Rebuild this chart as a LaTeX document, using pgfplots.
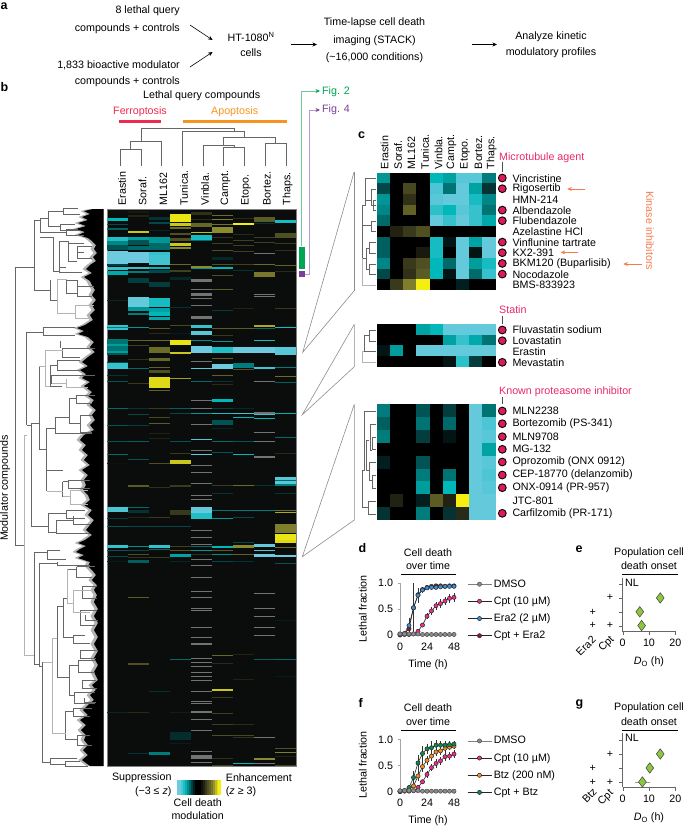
\documentclass[border=0pt]{standalone}
\usepackage{fontspec}
\setmainfont{Liberation Sans}
\usepackage{pgfplots}
\usepackage{pgfplotstable}
\pgfplotsset{compat=1.18}
\usetikzlibrary{arrows.meta}

\definecolor{dkline}{HTML}{666666}
\definecolor{ltline}{HTML}{B4B4B4}
\definecolor{heatbg}{HTML}{0A0D0C}
\definecolor{ferro}{HTML}{EE2A4F}
\definecolor{apop}{HTML}{F7941D}
\definecolor{hitpink}{HTML}{E0195E}
\definecolor{labpink}{HTML}{E8286E}
\definecolor{kinase}{HTML}{F47B50}
\definecolor{figgreen}{HTML}{00A651}
\definecolor{figgreenl}{HTML}{6BCB9A}
\definecolor{figpurple}{HTML}{7B3F98}
\definecolor{figpurplel}{HTML}{B99AD0}
\definecolor{sgray}{HTML}{8C8C8C}
\definecolor{spink}{HTML}{EC2E8C}
\definecolor{sblue}{HTML}{3F8FCF}
\definecolor{sred}{HTML}{8E1B2E}
\definecolor{sorange}{HTML}{F39220}
\definecolor{sgreen}{HTML}{0E8A4F}
\definecolor{dia}{HTML}{8DC63F}

\pgfplotsset{
  /pgfplots/colormap={cdm}{
    rgb255(0)=(110,203,223) rgb255(10)=(0,184,186) rgb255(16)=(0,143,143)
    rgb255(20)=(0,106,106) rgb255(25)=(5,50,50) rgb255(30)=(0,0,0)
    rgb255(35)=(42,42,24) rgb255(40)=(79,79,34) rgb255(50)=(138,138,48)
    rgb255(60)=(245,238,16)
  },
}

% heat cells, size comes from visualization depends on
\pgfdeclareplotmark{band}{%
  \pgfpathrectanglecorners{\pgfpoint{-10.5pt}{0pt}}{\pgfpoint{10.5pt}{-1pt*\bh}}%
  \pgfusepathqfill}
\pgfdeclareplotmark{cell}{%
  \pgfpathrectanglecorners{\pgfpoint{-6.65pt}{-0.5pt*\bh-0.03pt}}{\pgfpoint{6.65pt}{0.5pt*\bh+0.03pt}}%
  \pgfusepathqfill}
\pgfdeclareplotmark{tint}{%
  \pgfpathrectanglecorners{\pgfpoint{-1.3pt}{-7.5pt}}{\pgfpoint{1.3pt}{7.5pt}}%
  \pgfusepathqfill}

% main heat map: column, top y, height, z
\pgfplotstableread[row sep=\\]{
c y h z\\
1 218.3 2.3 -2\\ 1 224 1 -0.7\\ 1 228.3 2 -0.9\\ 1 237.3 3.3 -2.3\\ 1 240.7 4.3 -1.3\\ 1 245 5 -0.8\\ 1 250.7 13.3 -3\\ 1 264 1.5 -0.6\\ 1 267.3 2.7 -2.5\\ 1 271 4 -1.8\\ 1 300 1 -0.4\\
1 325 2 -2.5\\ 1 327 1.3 -1.2\\ 1 328.3 1.7 -2.5\\ 1 339.3 5 -1.1\\ 1 344.3 2 -1.6\\ 1 346.3 5 -1.1\\ 1 351.3 2 -1.6\\ 1 353.3 1.7 -0.8\\ 1 361.7 1 -0.7\\ 1 363.3 6 -2.5\\ 1 375 1 -0.5\\ 1 381 1 -0.8\\ 1 408.3 1 -1\\ 1 425 1 -0.8\\ 1 441 1 -0.8\\ 1 454 1 -1\\ 1 463.3 1 0.2\\ 1 507.3 5 -2.7\\ 1 518.3 1 -0.6\\ 1 525.7 1 -0.8\\ 1 545 3 -2.5\\ 1 550 1 -0.8\\ 1 556 1 -0.7\\ 1 561 1 -0.3\\ 1 711.7 1 -0.4\\
2 210.7 2 0.3\\ 2 215 2 0.4\\ 2 230.7 2 2.6\\ 2 237.3 2.7 -1.7\\ 2 240 5 -0.8\\ 2 245.7 4.3 -1\\ 2 251.7 11 -3\\ 2 266.7 2.7 -2.5\\ 2 270.7 2.7 -1.2\\ 2 278.3 5 -0.6\\ 2 296.7 10.7 -2.9\\ 2 307.3 3.3 -1.5\\ 2 313.3 1.7 -1.2\\
2 327.3 1 -1.5\\ 2 340 1 1.3\\ 2 345 1 0.8\\ 2 359.3 1 0.6\\ 2 368.3 1 -1\\ 2 383.3 1 0.7\\ 2 408.3 1 -0.5\\ 2 414 1 -0.7\\ 2 425 1 -0.6\\ 2 441 1 -0.9\\ 2 459.3 1 -0.8\\ 2 485 2.3 1.2\\ 2 507.3 1 -1\\ 2 510 3.3 -0.5\\ 2 516.7 1 0.4\\ 2 525.7 1 -0.7\\ 2 546 1 -1.4\\ 2 550 1 -0.7\\ 2 554 1 1\\ 2 557.3 1 0.6\\ 2 560 3.3 -0.9\\ 2 597.3 1 1.2\\ 2 663.3 2 1\\ 2 711.7 1 0.5\\ 2 753 1 -0.5\\
3 217.3 2.7 -0.5\\ 3 221.7 2.3 -0.7\\ 3 230 1 -0.4\\ 3 236.7 6.6 -1.5\\ 3 243.3 6.7 -1\\ 3 251.7 3.3 -2.5\\ 3 255 10 -2.6\\ 3 266.7 2.3 -2\\ 3 270 3.3 -0.7\\ 3 281.7 5 -0.6\\ 3 298.3 8.3 -2.2\\ 3 308.3 5 -1.7\\ 3 317.3 2.7 -1.8\\
3 311.7 4 -2\\ 3 328 1 1.2\\ 3 333 1 0.5\\ 3 340 1 1.5\\ 3 346.7 6.7 1.5\\ 3 358.3 2.7 1.4\\ 3 366.7 1.5 1.3\\ 3 370 3.3 1\\ 3 376.7 11.7 2.8\\ 3 390 1 1.3\\ 3 408.3 1 0.7\\ 3 416.7 1 0.9\\ 3 422.7 1 1.2\\ 3 433.3 1 0.4\\ 3 438.3 1 0.4\\ 3 463.3 1 1\\ 3 487.3 1 0.6\\ 3 516.7 1 0.7\\ 3 525.7 1 -0.7\\ 3 545 3.3 -2.5\\ 3 549.3 1 -1\\ 3 556.7 1 0.7\\ 3 691 1 -0.5\\ 3 751.7 3.3 -1.2\\
4 214 7.7 2.9\\ 4 222.7 3 2.6\\ 4 227.3 2 1.5\\ 4 233.3 1.7 1\\ 4 238 2.7 1\\ 4 243.3 2.3 2.6\\ 4 246.7 2.7 1.9\\ 4 264 1.3 1.4\\ 4 270 1.7 0.8\\ 4 276.7 3.3 -0.4\\ 4 307 1 -0.5\\
4 325 1 0.9\\ 4 333.3 1 -0.3\\ 4 340 5 2.9\\ 4 352.3 2 2.6\\ 4 377.5 1.5 2.2\\ 4 408.3 1 -0.9\\ 4 413.3 1 -0.7\\ 4 441 1 -0.8\\ 4 452.7 1 0.7\\ 4 460 3.5 2.6\\ 4 485 1.7 0.7\\ 4 510 5 0.7\\ 4 525.7 1 -0.7\\ 4 546 1 0.8\\ 4 550 1 1.1\\ 4 554 3.3 -1.7\\ 4 560.7 1 -0.4\\ 4 659 1 -1\\ 4 711.7 1 0.3\\ 4 731.7 8.3 -0.45\\ 4 743 1 -0.3\\
5 211.7 3.3 0.6\\ 5 219 1 0.5\\ 5 222.7 4 1.4\\ 5 232 1 2.5\\ 5 235 5 -2.2\\ 5 240 1 -1\\ 5 266 2 2\\ 5 267.7 1.7 -1.5\\ 5 325 2.7 -2.5\\ 5 330.7 4.3 -2.8\\ 5 340 1 -1.4\\ 5 345.7 7.7 -3\\ 5 367.7 1 -2.8\\ 5 381 1 -1\\ 5 413.3 1 -1.5\\ 5 439.3 1 -2.7\\ 5 454 1 -2.9\\ 5 507.3 6 -2.9\\ 5 513.3 5.7 -2.3\\ 5 546 1 -1\\ 5 550 1 -1.5\\ 5 554 1 0.6\\
6 215 1 1.5\\ 6 219.3 1 1.8\\ 6 224 1 1.6\\ 6 227.3 6 2\\ 6 237.3 1 0.6\\ 6 243.3 1 0.8\\ 6 250 1 1\\ 6 256.7 3.3 -0.4\\ 6 264 1 1\\ 6 267.3 2 -2\\ 6 275 1 1\\ 6 289.3 1 1.2\\ 6 310 1 -0.6\\
6 328 1 1.2\\ 6 335 1 0.7\\ 6 340.7 1 -1.5\\ 6 346.7 6 -2.3\\ 6 358.3 1 1.3\\ 6 364 5 -3\\ 6 375 1 1.3\\ 6 381 1 -0.5\\ 6 384 1 0.5\\ 6 399.3 2.5 -2\\ 6 408.3 1 -0.6\\ 6 413.3 1 -2.2\\ 6 420 5 -0.8\\ 6 428.3 1 -0.4\\ 6 441 1 -1\\ 6 451.7 1 -0.8\\ 6 485 1 0.7\\ 6 492.7 1 -0.5\\ 6 510 1 -1.1\\ 6 518.3 1 -1.5\\ 6 546 1 1.3\\ 6 546 1.5 -2\\ 6 550 1 1.2\\ 6 554 1 -1.4\\ 6 560.7 1 -0.7\\ 6 655 1 1.4\\ 6 663 1 0.5\\ 6 689.3 2 2.6\\ 6 697 1 0.7\\ 6 713 1 0.8\\ 6 724.3 1 0.8\\ 6 735 1 1\\ 6 758 1 0.6\\ 6 765 1 0.8\\
7 218 1 0.5\\ 7 222.7 2.3 3\\ 7 234 1 0.5\\ 7 240 1 0.8\\ 7 245 1 0.8\\ 7 250.7 1 0.8\\ 7 264 1 0.8\\ 7 270 1 -0.5\\
7 308 1 0.4\\ 7 328 1 1.2\\ 7 346.7 6.7 -3\\ 7 363.3 5 -1.2\\ 7 369 1 1\\ 7 408.3 1 -0.4\\ 7 413.3 1 -2.6\\ 7 417.3 1 -2\\ 7 441 1 -0.8\\ 7 454 1 -2\\ 7 485 1 1.5\\ 7 510 1 -1.2\\ 7 516.7 1 -0.7\\ 7 541.7 1 -0.7\\ 7 545 3 2\\ 7 554 1 1.3\\ 7 560.7 1 -0.5\\ 7 654.3 1 0.4\\ 7 679.3 1 0.4\\ 7 724.3 1 0.5\\ 7 735 1 0.9\\ 7 737.3 1 0.6\\ 7 762.7 1.3 -2\\
8 217.3 4.3 1.2\\ 8 223.3 1 -0.5\\ 8 236.7 1 0.8\\ 8 241.7 1 0.8\\ 8 264 1 1.5\\ 8 271.7 5 1.7\\
8 325 2 2.3\\ 8 328.3 1 -1\\ 8 340 1 -2.2\\ 8 346.7 6.7 -3\\ 8 367.3 1.5 -2.6\\ 8 413.3 1.3 -2.5\\ 8 417.7 1 -2\\ 8 485 1 -0.5\\ 8 510 1 -1.2\\ 8 544 3.3 -2.9\\ 8 550 1 -2.7\\ 8 554 3.3 -3\\ 8 659.3 1 -0.9\\ 8 758 1.7 2\\
9 220 3 -2.2\\ 9 233.3 5 1\\ 9 243.3 1 0.7\\ 9 250 1 0.6\\ 9 265 1 1.3\\ 9 270.7 1 0.5\\ 9 308.3 1 1.2\\
9 308.3 1 0.7\\ 9 326.7 1 -2.2\\ 9 346.7 8.3 -2.8\\ 9 366.7 1 -1.2\\ 9 376 1 1.5\\ 9 381.7 1 -0.9\\ 9 413.3 1 -1.9\\ 9 437.3 1 -1\\ 9 452.7 1 0.5\\ 9 476.7 3 -2.8\\ 9 479.7 1.3 -1\\ 9 481 3 -2.8\\ 9 484 2 -1.2\\ 9 492.7 1 -0.5\\ 9 510 1 1.5\\ 9 511.7 1 2.3\\ 9 524 9 1.8\\ 9 534.3 8 2.9\\ 9 540 2.7 2.8\\ 9 547.3 1 1.5\\ 9 555 2.3 -3\\ 9 562.7 1 -0.8\\ 9 620 1 -0.3\\ 9 659.3 1 -1\\ 9 676 1 -0.3\\ 9 748.3 1 1\\ 9 751.7 1 1.8\\ 9 756 1 0.4\\ 9 765 1 0.8\\
}\bandtab

% greyish stripes (mostly Vinbla.)
\pgfplotstableread[row sep=\\]{
c y h\\
5 279 3.3\\ 5 289.3 1\\ 5 293.3 3\\ 5 298 1\\ 5 316.7 2.7\\ 5 305 1\\ 5 316 3\\ 5 361 1\\ 5 400 1\\ 5 408.3 1\\ 5 424 1\\ 5 450 1\\ 5 465 1\\ 5 471.7 1\\ 5 483.3 1\\ 5 495 1\\ 5 499 1\\ 5 530 1\\ 5 537.3 1\\ 5 544 1\\ 5 559.3 1\\ 5 565 1\\ 5 577.3 1\\ 5 591 1\\ 5 597.3 1\\ 5 608 1.3\\ 5 610 1\\ 5 627.3 1\\ 5 637 1\\ 5 643 1.7\\ 5 658 1\\ 5 661.7 1\\ 5 666 1\\ 5 671.7 1\\ 5 676 1\\ 5 680 1\\ 5 690.7 1.7\\ 5 700.7 1.5\\ 5 703.3 1\\ 5 710.7 1\\ 5 712.3 1\\ 5 719.3 1\\ 5 730 1\\ 5 751 1\\ 5 755 2.5\\ 5 761.7 1\\ 5 756 3\\
8 252.7 1.5\\ 8 294 1\\ 8 296.3 1\\ 8 381 1\\ 8 411.7 2\\ 8 431.7 1\\ 8 441 1.2\\ 8 456 1.5\\ 8 593.3 1\\ 8 608.3 1\\ 8 616.3 1\\ 8 627.3 1\\ 8 635.3 1\\ 8 736.7 1\\ 8 763.3 1\\
}\greytab

% left edge of the dendrogram leaves
\pgfplotstableread[row sep=\\]{
x y\\
103.5 209\\ 93 209\\ 84 211\\ 90 214\\ 82 217\\ 88 220\\ 78 223\\ 86 226\\ 76 229\\ 85 232\\ 78 235\\ 88 238\\ 92 241\\ 96 245\\ 94 249\\ 97 253\\ 93 257\\ 96 261\\ 90 265\\ 86 269\\ 92 273\\ 84 277\\ 90 281\\ 92 285\\ 95 290\\ 92 295\\ 96 300\\ 92 305\\ 95 310\\ 90 315\\ 93 320\\ 85 325\\ 77 328\\ 84 331\\ 78 334\\ 88 337\\ 94 342\\ 90 347\\ 95 352\\ 88 357\\ 82 362\\ 88 366\\ 80 370\\ 86 374\\ 82 378\\ 90 382\\ 84 386\\ 92 392\\ 88 396\\ 94 400\\ 90 405\\ 96 410\\ 92 415\\ 95 420\\ 90 425\\ 94 430\\ 84 435\\ 80 440\\ 86 445\\ 82 450\\ 88 455\\ 84 460\\ 90 465\\ 82 470\\ 88 475\\ 84 480\\ 86 485\\ 83 490\\ 88 495\\ 90 500\\ 84 505\\ 92 510\\ 88 515\\ 94 520\\ 90 525\\ 86 530\\ 92 535\\ 85 540\\ 78 543\\ 86 546\\ 80 549\\ 76 552\\ 84 555\\ 78 558\\ 90 562\\ 88 566\\ 92 570\\ 96 575\\ 92 580\\ 97 585\\ 94 590\\ 97 595\\ 94 602\\ 98 609\\ 94 616\\ 98 623\\ 94 630\\ 98 637\\ 94 644\\ 98 651\\ 94 658\\ 98 665\\ 94 672\\ 98 680\\ 92 685\\ 96 690\\ 90 695\\ 94 700\\ 88 705\\ 83 710\\ 88 715\\ 80 720\\ 86 725\\ 81 730\\ 86 735\\ 84 740\\ 88 745\\ 83 750\\ 88 755\\ 82 760\\ 90 766\\ 103.5 766\\
}\fringe

% panel c values, one column per query compound
\pgfplotstableread[row sep=\\]{
y c1 c2 c3 c4 c5 c6 c7 c8 c9\\
178.0 -1.5 0 0 0 -2 -1.7 -2.8 -2.8 -1.2\\
188.7 -0.7 0 0.9 0 -2.7 -1.1 -2.9 -1.7 -0.5\\
199.4 -1.5 0 0.6 0 -2.8 -2.9 -2.9 -2.2 -1.3\\
210.1 -1.3 0 1.3 0 -2.4 -2 -2.8 -2.5 -1.1\\
220.7 -1 0 0 0 -2.9 -2.5 -2.9 -2.5 -1.8\\
231.4 0 0.4 0.7 1 0 0 0 0 0\\
242.1 -0.9 0 0 0 -2.2 -0.2 -2.9 -1.7 -2.9\\
252.7 -0.9 0 0 0.3 -2.2 0 -2.9 -0.2 -2.9\\
263.4 -1.3 0 0.7 1 -2 -1 -2.9 -1.6 -2.2\\
274.1 -0.7 0 0.6 1.2 -2 -0.2 -2.9 -1 -2.5\\
284.7 0 0.7 1.8 3 0 0 -0.3 0 0\\
}\heatA
\pgfplotstableread[row sep=\\]{
y c1 c2 c3 c4 c5 c6 c7 c8 c9\\
329.6 0 0 0 -1.7 -2 -2.9 -2.9 -2.9 -2.9\\
340.2 0 0 0 0 0 -1.7 -2.5 -1.8 -1.1\\
350.8 -0.2 -1.6 0 -2.9 -2.9 -2.9 -2.9 -2.9 -2.9\\
361.4 0 0 0 0 0 -0.2 -2.4 -0.6 0\\
}\heatB
\pgfplotstableread[row sep=\\]{
y c1 c2 c3 c4 c5 c6 c7 c8 c9\\
410.7 -1.2 0 0 -0.8 0 -0.6 0 -2.9 -1.1\\
423.6 -0.9 0 0 -1.1 0 -1 0 -2.9 -2.7\\
436.5 -1.2 0 0 -0.6 0 -0.2 0 -2.9 -2.8\\
449.3 0 0 0 0 0 0 0 -2.9 -1.7\\
462.2 -0.3 0 0 -0.8 0 0 0 -2.9 -2.8\\
475.0 0 0 0 -1.2 0 -1.1 0 -2.9 -2.7\\
487.9 0 0 0 -1.6 0 -2 0 -2.9 -2.8\\
500.7 0 0.4 0 -0.3 1.2 0.4 3 -2.9 -2.9\\
513.6 -0.5 0 0 -1.2 0 -0.5 0.5 -2.9 -2.9\\
}\heatC

% panel d
\pgfplotstableread[row sep=\\]{
t dmso cpt ecpt era eera cb ecb\\
0 0.02 0 0.01 0.02 0.01 0.01 0.01\\
4 0.02 0.01 0.01 0.03 0.02 0.02 0.01\\
8 0.02 0.01 0.01 0.18 0.14 0.12 0.06\\
12 0.02 0.02 0.01 0.52 0.48 0.52 0.46\\
16 0.02 0.07 0.03 0.76 0.14 0.77 0.08\\
20 0.01 0.19 0.04 0.86 0.06 0.87 0.05\\
24 0.01 0.36 0.06 0.90 0.04 0.91 0.03\\
28 0.01 0.46 0.07 0.91 0.03 0.93 0.03\\
32 0.01 0.56 0.08 0.91 0.03 0.94 0.02\\
36 0.01 0.60 0.08 0.92 0.03 0.94 0.02\\
40 0.01 0.65 0.08 0.93 0.03 0.93 0.02\\
44 0.01 0.70 0.09 0.93 0.03 0.94 0.02\\
48 0.01 0.72 0.09 0.93 0.03 0.94 0.02\\
}\tabd
% panel f
\pgfplotstableread[row sep=\\]{
t dmso cpt ecpt btz ebtz cb ecb\\
0 0.02 0 0.01 0.01 0.01 0.01 0.01\\
4 0.02 0.01 0.01 0.02 0.01 0.02 0.01\\
8 0.02 0.01 0.01 0.05 0.02 0.08 0.03\\
12 0.02 0.02 0.01 0.11 0.05 0.27 0.12\\
16 0.02 0.08 0.03 0.30 0.09 0.55 0.15\\
20 0.01 0.19 0.04 0.48 0.10 0.73 0.14\\
24 0.01 0.33 0.06 0.60 0.09 0.82 0.10\\
28 0.01 0.46 0.07 0.68 0.09 0.84 0.12\\
32 0.01 0.54 0.08 0.76 0.08 0.89 0.10\\
36 0.01 0.59 0.08 0.78 0.08 0.89 0.08\\
40 0.01 0.67 0.08 0.83 0.07 0.89 0.07\\
44 0.01 0.68 0.08 0.85 0.06 0.90 0.06\\
48 0.01 0.72 0.08 0.87 0.06 0.91 0.05\\
}\tabf

\newcommand\T[4][]{\node[inner sep=0pt,anchor=#2,#1] at (axis cs:#3) {#4};}
\newcommand\pl[1]{\textbf{\fontsize{12.5}{13}\selectfont #1}}

\begin{document}
\begin{tikzpicture}[font=\fontsize{10.7}{12}\selectfont]
\path[use as bounding box] (0,0) rectangle (685pt,828pt);
\begin{axis}[
    at={(0,0)}, anchor=south west, scale only axis, width=685pt, height=828pt,
    xmin=0, xmax=685, ymin=0, ymax=828, y dir=reverse, hide axis, clip=false,
    point meta min=-3, point meta max=3, colormap name=cdm,
    tree/.style={no marks, line width=0.7pt, unbounded coords=jump, line join=miter},
    arr/.style={no marks, black, line width=0.6pt, -{Stealth[length=4.5pt,width=4pt]}},
    wedge/.style={no marks, color=black!45, line width=0.6pt},
  ]

% panel a
\T{west}{0.5,6}{\pl{a}}
\T{east}{180,11}{8 lethal query}
\T{east}{180,28.5}{compounds + controls}
\T{east}{180,65}{1,833 bioactive modulator}
\T{east}{180,82}{compounds + controls}
\T{center}{251,36.5}{HT-1080\textsuperscript{N}}
\T{center}{251,53}{cells}
\T{center}{374.5,23}{Time-lapse cell death}
\T{center}{374.5,40.5}{imaging (STACK)}
\T{center}{374.5,58}{(\textasciitilde 16,000 conditions)}
\T{center}{551,36.5}{Analyze kinetic}
\T{center}{551,52.5}{modulatory profiles}
\addplot[arr] coordinates {(190,25)(212.6,40)};
\addplot[arr] coordinates {(190,67)(212.6,52)};
\addplot[arr] coordinates {(291,44.5)(317,44.5)};
\addplot[arr] coordinates {(471.5,44.5)(497,44.5)};

% panel b header
\T{west}{0.5,87}{\pl{b}}
\T{center}{201.7,96}{Lethal query compounds}
\T[text=ferro]{center}{140,112}{Ferroptosis}
\T[text=apop]{center}{234.7,112}{Apoptosis}
\addplot[no marks, ferro, line width=3.6pt] coordinates {(119,121.3)(161,121.3)};
\addplot[no marks, apop, line width=3.6pt] coordinates {(182.7,121.3)(287,121.3)};
\addplot[tree, dkline] coordinates {
(141.3,141)(141.3,128.3)(234.3,128.3)(234.3,131.7)

(130.7,149)(130.7,141)(161.7,141)(161.7,166)

(120.7,166)(120.7,149)(141.3,149)(141.3,166)

(182.3,166)(182.3,131.7)(244.3,131.7)(244.3,137.3)

(223.7,145)(223.7,137.3)(275.7,137.3)(275.7,143.3)

(203.3,166)(203.3,145)(234.3,145)(234.3,147.7)

(223.7,166)(223.7,147.7)(244.3,147.7)(244.3,166)

(265.3,166)(265.3,143.3)(286,143.3)(286,166)
};
\T[rotate=90]{west}{122,205.5}{Erastin}
\T[rotate=90]{west}{142.5,205.5}{Soraf.}
\T[rotate=90]{west}{163.5,205.5}{ML162}
\T[rotate=90]{west}{184,205.5}{Tunica.}
\T[rotate=90]{west}{205,205.5}{Vinbla.}
\T[rotate=90]{west}{225.5,205.5}{Campt.}
\T[rotate=90]{west}{246,205.5}{Etopo.}
\T[rotate=90]{west}{267,205.5}{Bortez.}
\T[rotate=90]{west}{287.5,205.5}{Thaps.}

% Fig. 2 / Fig. 4 links
\addplot[no marks, figgreenl, line width=0.9pt, -{Stealth[length=4.5pt,width=4pt,color=figgreen]}] coordinates {(301.7,246)(301.7,91)(320,91)};
\addplot[no marks, figpurplel, line width=0.9pt, -{Stealth[length=4.5pt,width=4pt,color=figpurple]}] coordinates {(305,274)(309.3,274)(309.3,110)(320,110)};
\addplot[no marks, figgreen, line width=6.3pt] coordinates {(302.2,246.7)(302.2,269)};
\addplot[no marks, figpurple, line width=6.3pt] coordinates {(302.2,271)(302.2,276.7)};
\T[text=figgreen]{west}{322,92}{Fig. 2}
\T[text=figpurple]{west}{322,110}{Fig. 4}

% main heat map
\addplot[fill=heatbg, draw=black!50, line width=0.5pt] coordinates {(107,209)(296,209)(296,766)(107,766)} --cycle;
\addplot[scatter, only marks, mark=band, scatter src=explicit,
  scatter/use mapped color={fill=mapped color},
  visualization depends on={\thisrow{h} \as \bh}]
  table[x expr={107+21*(\thisrow{c}-0.5)}, y=y, meta=z] {\bandtab};
\addplot[only marks, mark=band, mark options={fill=black!55, draw=none}, color=black!55,
  visualization depends on={\thisrow{h} \as \bh}]
  table[x expr={107+21*(\thisrow{c}-0.5)}, y=y] {\greytab};

% modulator dendrogram
\addplot[fill=black!30, draw=none] table[x expr={max(\thisrow{x}-3.5,0)*(\thisrow{x}<103)+103.5*(\thisrow{x}>103)}, y=y] {\fringe} --cycle;
\addplot[fill=black, draw=none] table[x=x, y=y] {\fringe} --cycle;
\addplot[tree, dkline] coordinates {
(34,267)(15,267)(15,545)(24,545)

(40,220.7)(34,220.7)(34,290)(50,290)

(63.3,211.7)(48.3,211.7)(48.3,226.7)(60,226.7)

(40,218)(40,232)(66,232)

(48.3,218)(40,218)

(78,208.5)(63.3,208.5)(63.3,214.5)(80,214.5)

(75,224)(60,224)(60,230)(80,230)

(84,235)(66,235)(66,229)(78,229)

(59.3,241.7)(59.3,271.7)(53,271.7)(53,237)(40,237)

(59.3,241.7)(68.3,241.7)(68.3,261.7)(77.3,261.7)

(77.3,246.7)(77.3,258)(92,258)

(77.3,246.7)(92,246.7)

(84,243)(68.3,243)

(84,252)(77.3,252)

(66,267)(59.3,267)(59.3,272)(82,272)

(50,280)(50,300)(57.3,300)

(77.3,280)(66.7,280)(66.7,293)(77.3,293)

(77.3,280)(77.3,296)(92,296)

(77.3,286)(94,286)

(26.7,425)(26.7,332)(43.3,332)

(31.7,425)(26.7,425)

(39,423)(31.7,423)(31.7,526)(48,526)

(43.3,327)(43.3,335)

(75,327)(43.3,327)

(75,335)(43.3,335)

(60,341)(60,348)

(62.7,348)(62.7,357)(80,357)

(62.7,348)(95,348)

(50,365)(50,386)(62,386)

(50,365)(57.3,365)

(57.3,360)(57.3,370)(80,370)

(57.3,360)(80,360)

(51.7,375)(51.7,383)(66.7,383)

(51.7,375)(95,375)

(39,366)(39,449)(46.7,449)

(46.7,428)(46.7,491)

(46.7,428)(55,428)

(55,417)(55,433)(92,433)

(55,417)(70,417)

(69.3,398)(69.3,423)(80,423)

(69.3,398)(76,398)

(76,395)(76,403)(92,403)

(76,395)(95,395)

(80,415)(80,432)(92,432)

(80,415)(92,415)

(62.7,470)(46.7,470)

(62.7,481.7)(62.7,496.7)(70.7,496.7)

(62.7,481.7)(68.3,481.7)

(68.3,480)(68.3,488)(90,488)

(68.3,480)(90,480)

(48,513)(48,532)(56.7,532)

(48,513)(66.7,513)

(66.7,510)(66.7,518)(85,518)

(66.7,510)(85,510)

(56.7,520)(56.7,533)(90,533)

(56.7,520)(73.3,520)

(73.3,516)(73.3,524)(90,524)

(34.3,552)(34.3,664)(39.3,664)

(34.3,552)(47,552)

(47,550)(47,559)(66,559)

(47,550)(60,550)

(39.3,563)(39.3,666)(42.7,666)

(39.3,563)(57,563)

(57,561.7)(57,565)(90,565)

(42.7,662)(42.7,762)(50,762)

(50,758)(50,764)(65,764)

(50,758)(76.7,758)

(65,761)(65,766)(88,766)

(65,761)(80,761)

(57.3,606)(57.3,677)(69.3,677)

(63.3,598)(63.3,637)(73,637)

(63.3,598)(67.3,598)

(57.3,606)(63.3,606)

(67.3,569)(76.7,569)

(76.7,566.7)(76.7,577)(92,577)

(76.7,566.7)(95,566.7)

(73,635)(73,643)(90,643)

(73,635)(85,635)

(69.3,665)(69.3,695)(74,695)

(69.3,665)(78.3,665)

(78.3,660)(78.3,672)(95,672)

(78.3,660)(95,660)

(74,692)(74,703)(95,703)

(74,692)(95,692)

(65.7,711)(65.7,739)(77.3,739)

(65.7,711)(73.3,711)

(73.3,708)(73.3,716)(90,716)

(73.3,708)(92,708)

(77.3,735)(77.3,745)(92,745)

(77.3,735)(90,735)

(82,586)(82,598)(97,598)

(82,586)(97,586)

(80,610)(80,625)(95,625)

(80,610)(97,610)

(85,615)(85,620)(98,620)

(80,650)(80,658)(96,658)

(80,650)(97,650)

(82,680)(82,688)(97,688)

(82,680)(96,680)

(84,698)(84,702)(96,702)
};
\addplot[tree, ltline] coordinates {
(26.7,435)(24,435)(24,655)(34.3,655)

(39,366)(45.7,366)

(45.7,350)(45.7,386)(50,386)

(45.7,350)(62.7,350)

(46.7,491.7)(62.7,491.7)

(62.7,496.7)(70.7,496.7)

(70.7,490)(70.7,504)(88,504)

(70.7,490)(88,490)

(57.3,279)(57.3,313)(75,313)

(57.3,279)(66.7,279)

(51.7,383)(66.7,383)

(66.7,379)(66.7,387)(88,387)

(42.7,662)(52.3,662)

(52.3,638)(52.3,733)(65.7,733)

(52.3,638)(57.3,638)

(67.3,569)(67.3,603)(73,603)

(73,590)(73,612)(90,612)

(73,590)(92,590)

(75,305)(75,318)(92,318)

(75,305)(94,305)
};

% zoom wedges
\addplot[wedge] coordinates {(354,172.3)(302.7,352.3)(354,291)};
\addplot[wedge] coordinates {(354,172.3)(354,291)};
\addplot[wedge] coordinates {(354.3,324.3)(302.3,414.7)(354.3,366.7)(354.3,324.3)};
\addplot[wedge] coordinates {(354.3,404.3)(302.3,556.7)(354.3,520)(354.3,404.3)};

% panel c
\T{west}{358,135}{\pl{c}}
\T[rotate=90]{west}{384.5,169.3}{Erastin}
\T[rotate=90]{west}{398,169.3}{Soraf.}
\T[rotate=90]{west}{411.5,169.3}{ML162}
\T[rotate=90]{west}{425,169.3}{Tunica.}
\T[rotate=90]{west}{438.5,169.3}{Vinbla.}
\T[rotate=90]{west}{451.5,169.3}{Campt.}
\T[rotate=90]{west}{465,169.3}{Etopo.}
\T[rotate=90]{west}{478.5,169.3}{Bortez.}
\T[rotate=90]{west}{491.5,169.3}{Thaps.}
\pgfplotsinvokeforeach{1,...,9}{
  \addplot[scatter, only marks, mark=cell, scatter src=explicit,
    scatter/use mapped color={fill=mapped color},
    visualization depends on={10.67 \as \bh}]
    table[x expr={376.7+13.22*(#1-0.5)}, y=y, meta=c#1] {\heatA};
  \addplot[scatter, only marks, mark=cell, scatter src=explicit,
    scatter/use mapped color={fill=mapped color},
    visualization depends on={10.6 \as \bh}]
    table[x expr={376.7+13.22*(#1-0.5)}, y=y, meta=c#1] {\heatB};
  \addplot[scatter, only marks, mark=cell, scatter src=explicit,
    scatter/use mapped color={fill=mapped color},
    visualization depends on={12.86 \as \bh}]
    table[x expr={376.7+13.22*(#1-0.5)}, y=y, meta=c#1] {\heatC};
}
% hits
\addplot[only marks, mark=*, mark size=3.9pt, mark options={fill=hitpink, draw=black, line width=0.9pt}] coordinates {
(502.3,178)(502.3,188.7)(502.3,210.1)(502.3,220.7)(502.3,242.1)(502.3,252.7)(502.3,263.4)(502.3,274.1)
(502.3,330)(502.3,340.7)(502.3,362.3)
(502.3,411)(502.3,423.7)(502.3,436.7)(502.3,449.3)(502.3,462)(502.3,475)(502.3,487.7)(502.3,513.3)};
\addplot[no marks, black!70, line width=0.6pt] coordinates {(502.3,162)(502.3,172)};
\addplot[no marks, black!70, line width=0.6pt] coordinates {(502.3,316)(502.3,324)};
\addplot[no marks, black!70, line width=0.6pt] coordinates {(502.3,397)(502.3,404)};
\T[text=labpink]{west}{499,157.7}{Microtubule agent}
\T[text=labpink]{west}{499,310}{Statin}
\T[text=labpink]{west}{499,391.3}{Known proteasome inhibitor}
\T{west}{512.3,178.3}{Vincristine}
\T{west}{512.3,189}{Rigosertib}
\T{west}{512.3,199.7}{HMN-214}
\T{west}{512.3,210.3}{Albendazole}
\T{west}{512.3,221}{Flubendazole}
\T{west}{512.3,231.7}{Azelastine HCl}
\T{west}{512.3,242.3}{Vinflunine tartrate}
\T{west}{512.3,253}{KX2-391}
\T{west}{512.3,263.7}{BKM120 (Buparlisib)}
\T{west}{512.3,274.3}{Nocodazole}
\T{west}{512.3,285}{BMS-833923}
\T{west}{512.3,330}{Fluvastatin sodium}
\T{west}{512.3,340.7}{Lovastatin}
\T{west}{512.3,351.7}{Erastin}
\T{west}{512.3,362.3}{Mevastatin}
\T{west}{512.3,411}{MLN2238}
\T{west}{512.3,423.7}{Bortezomib (PS-341)}
\T{west}{512.3,436.7}{MLN9708}
\T{west}{512.3,449.3}{MG-132}
\T{west}{512.3,462}{Oprozomib (ONX 0912)}
\T{west}{512.3,475}{CEP-18770 (delanzomib)}
\T{west}{512.3,487.7}{ONX-0914 (PR-957)}
\T{west}{512.3,500.7}{JTC-801}
\T{west}{512.3,513.3}{Carfilzomib (PR-171)}
\T[text=kinase,rotate=-90]{center}{650,230.7}{Kinase inhibitors}
\addplot[no marks, kinase, line width=0.8pt, -{Stealth[length=4.5pt,width=4pt]}] coordinates {(585,189)(567.3,189)};
\addplot[no marks, kinase, line width=0.8pt, -{Stealth[length=4.5pt,width=4pt]}] coordinates {(578.3,252.3)(560.7,252.3)};
\addplot[no marks, kinase, line width=0.8pt, -{Stealth[length=4.5pt,width=4pt]}] coordinates {(642.3,264)(623.3,264)};
% panel c dendrograms
\addplot[tree, dkline, line width=0.6pt] coordinates {
(376,178)(365,178)(365,205)(362,205)

(376,189)(371,189)(371,205)(376,205)

(376,200)(373,200)(373,210)(376,210)

(365,200)(371,200)

(376,221)(371,221)(371,231)(376,231)

(362,205)(362,225)(371,225)

(376,242)(369,242)(369,253)(376,253)

(376,264)(369,264)(369,274)(376,274)

(369,248)(366,248)(366,269)(369,269)

(366,258)(362,258)

(362,225)(362,258)

(376,330)(369,330)(369,341)(376,341)

(369,335)(364,335)(364,351)(376,351)

(376,411)(364,411)(364,470)(362,470)

(376,424)(370,424)(370,450)(372,450)

(376,437)(372,437)(372,449)(376,449)

(376,462)(369,462)(369,480)(372,480)

(376,475)(372,475)(372,488)(376,488)

(369,440)(366,440)(366,470)(369,470)

(362,470)(362,507)(368,507)

(376,501)(368,501)(368,514)(376,514)
};
\addplot[tree, ltline, line width=0.6pt] coordinates {
(364,351)(362,351)(362,362)(376,362)

(376,285)(362,285)(362,258)
};

% colour key
\addplot[scatter, only marks, mark=tint, scatter src=explicit,
  scatter/use mapped color={fill=mapped color}] table[x=x, y=y, meta=z, row sep=\\] {
x y z\\
178 787.5 -3\\ 180 787.5 -3\\ 182 787.5 -2.7\\ 184 787.5 -2.3\\ 186 787.5 -1.9\\ 188 787.5 -1.4\\ 190 787.5 -1\\ 192 787.5 -0.6\\ 194 787.5 -0.3\\ 196 787.5 0\\ 198 787.5 0\\ 200 787.5 0\\ 202 787.5 0.2\\ 204 787.5 0.4\\ 206 787.5 0.7\\ 208 787.5 1\\ 210 787.5 1.3\\ 212 787.5 1.7\\ 214 787.5 2.1\\ 216 787.5 2.5\\ 218 787.5 2.8\\ 219.2 787.5 3\\
};
\T{east}{171.7,778}{Suppression}
\T{east}{171.7,791.7}{(−3 ≤ \textit{z})}
\T{west}{225.7,778}{Enhancement}
\T{west}{225.7,791.7}{(\textit{z} ≥ 3)}
\T{center}{197.7,802.7}{Cell death}
\T{center}{197.7,815.3}{modulation}
\T[rotate=90]{center}{5,488}{Modulator compounds}

% panel titles d-g
\T{west}{358.5,548}{\pl{d}}
\T{center}{428,553}{Cell death}
\T{center}{428,566}{over time}
\addplot[no marks, black, line width=0.6pt] coordinates {(401,574)(456,574)};
\T{west}{575.5,549}{\pl{e}}
\T{center}{649,553}{Population cell}
\T{center}{649,566}{death onset}
\addplot[no marks, black, line width=0.6pt] coordinates {(622,574)(678,574)};
\T{center}{610,597.7}{+}
\T{center}{592.7,612.3}{+}
\T{center}{610,625.7}{+}
\T{center}{592.7,625.7}{+}
\T[rotate=45]{east}{594,638}{Era2}
\T[rotate=45]{east}{612.7,638}{Cpt}
\T{center}{428,665}{Time (h)}
\T{center}{649,662}{\textit{D}\textsubscript{O} (h)}

\T{west}{358.5,703}{\pl{f}}
\T{center}{428,708}{Cell death}
\T{center}{428,722}{over time}
\addplot[no marks, black, line width=0.6pt] coordinates {(401,730)(456,730)};
\T{west}{575.5,704}{\pl{g}}
\T{center}{649,708}{Population cell}
\T{center}{649,722}{death onset}
\addplot[no marks, black, line width=0.6pt] coordinates {(622,730)(678,730)};
\T{center}{610,754}{+}
\T{center}{592.7,768}{+}
\T{center}{610,782}{+}
\T{center}{592.7,782}{+}
\T[rotate=45]{east}{595,790}{Btz}
\T[rotate=45]{east}{612,791.7}{Cpt}
\T{center}{428,821}{Time (h)}
\T{center}{649,818}{\textit{D}\textsubscript{O} (h)}
\T[rotate=90]{center}{362.7,609}{Lethal fraction}
\T[rotate=90]{center}{362.7,765}{Lethal fraction}
\end{axis}

\pgfplotsset{
  timecourse/.style={
    anchor=south west, scale only axis, width=54pt, height=52.3pt,
    xmin=0, xmax=48, ymin=0, ymax=1, clip=false,
    axis y line=left, axis x line=bottom, axis line style={black!35, -, line width=0.8pt},
    xtick={0,24,48}, ytick={0,0.5,1}, yticklabels={0,0.5,1.0},
    tick style={black!35}, tick align=outside, major tick length=2.5pt,
    /pgf/number format/assume math mode=true,
    x tick label style={yshift=-1.5pt}, y tick label style={xshift=-1pt},
    legend style={draw=none, fill=none, at={(67pt,58pt)}, anchor=north west,
      inner sep=0pt, row sep=4pt, cells={anchor=west}},
    legend image code/.code={\draw[##1] (0pt,0pt)--(24pt,0pt);
      \draw[##1,only marks] plot coordinates {(12pt,0pt)};},
  },
  ser/.style={black!85, line width=0.6pt, mark=*, mark size=2.1pt,
    mark options={fill=#1, draw=black!85, line width=0.5pt},
    error bars/y dir=both, error bars/y explicit, error bars/error mark=none,
    error bars/error bar style={black!80, line width=0.4pt}},
  onset/.style={
    anchor=south west, scale only axis, width=53.6pt,
    xmin=0, xmax=20.4, clip=false,
    axis y line=left, axis x line=bottom, axis line style={black!60, -, line width=0.6pt},
    xtick={0,10,20}, ytick={1,2,3,4}, yticklabels={},
    tick style={black!60}, tick align=outside, major tick length=3.5pt,
    /pgf/number format/assume math mode=true,
    x tick label style={yshift=-0.5pt},
  },
  dmnd/.style={only marks, mark=diamond*, mark size=5.2pt,
    mark options={fill=dia, draw=black!75, line width=0.5pt},
    error bars/x dir=both, error bars/x explicit, error bars/error mark=none,
    error bars/error bar style={black!40, line width=0.6pt}},
}

% d
\begin{axis}[timecourse, at={(400pt,193pt)}]
\addlegendimage{black!50, line width=0.6pt, mark=*, mark size=2.1pt, mark options={fill=sgray,draw=black!70,line width=0.5pt}}
\addlegendentry{DMSO}
\addlegendimage{black!85, line width=0.6pt, mark=*, mark size=2.1pt, mark options={fill=spink,draw=black!85,line width=0.5pt}}
\addlegendentry{Cpt (10 µM)}
\addlegendimage{black!85, line width=0.6pt, mark=*, mark size=2.1pt, mark options={fill=sblue,draw=black!85,line width=0.5pt}}
\addlegendentry{Era2 (2 µM)}
\addlegendimage{black!85, line width=0.6pt, mark=*, mark size=2.1pt, mark options={fill=sred,draw=black!85,line width=0.5pt}}
\addlegendentry{Cpt + Era2}
\addplot[ser=spink, forget plot] table[x=t, y=cpt, y error=ecpt] {\tabd};
\addplot[ser=sred, forget plot] table[x=t, y=cb, y error=ecb] {\tabd};
\addplot[ser=sblue, forget plot] table[x=t, y=era, y error=eera] {\tabd};
\addplot[black!50, line width=0.6pt, mark=*, mark size=2.1pt, mark options={fill=sgray,draw=black!70,line width=0.5pt}, forget plot] table[x=t, y=dmso] {\tabd};
\end{axis}

% f
\begin{axis}[timecourse, at={(400pt,36.3pt)}]
\addlegendimage{black!50, line width=0.6pt, mark=*, mark size=2.1pt, mark options={fill=sgray,draw=black!70,line width=0.5pt}}
\addlegendentry{DMSO}
\addlegendimage{black!85, line width=0.6pt, mark=*, mark size=2.1pt, mark options={fill=spink,draw=black!85,line width=0.5pt}}
\addlegendentry{Cpt (10 µM)}
\addlegendimage{black!85, line width=0.6pt, mark=*, mark size=2.1pt, mark options={fill=sorange,draw=black!85,line width=0.5pt}}
\addlegendentry{Btz (200 nM)}
\addlegendimage{black!85, line width=0.6pt, mark=*, mark size=2.1pt, mark options={fill=sgreen,draw=black!85,line width=0.5pt}}
\addlegendentry{Cpt + Btz}
\addplot[ser=spink, forget plot] table[x=t, y=cpt, y error=ecpt] {\tabf};
\addplot[ser=sorange, forget plot] table[x=t, y=btz, y error=ebtz] {\tabf};
\addplot[ser=sgreen, forget plot] table[x=t, y=cb, y error=ecb] {\tabf};
\addplot[black!50, line width=0.6pt, mark=*, mark size=2.1pt, mark options={fill=sgray,draw=black!70,line width=0.5pt}, forget plot] table[x=t, y=dmso] {\tabf};
\end{axis}

% e
\begin{axis}[onset, at={(622.7pt,196.3pt)}, height=53.7pt, ymin=0.56, ymax=4.44]
\addplot[dmnd] table[x=x, y=y, x error=e, row sep=\\] {x y e\\ 14.3 3 0.4\\ 6.5 2 0.5\\ 7.2 1 0.6\\};
\end{axis}
\node[anchor=north west, inner sep=0pt] at (625pt,{828pt-579pt}) {NL};

% g
\begin{axis}[onset, at={(622.7pt,40.7pt)}, height=54.3pt, ymin=0.62, ymax=4.5]
\addplot[dmnd] table[x=x, y=y, x error=e, row sep=\\] {x y e\\ 14.3 3 0.4\\ 10.3 2 0.5\\ 7.5 1 3\\};
\end{axis}
\node[anchor=north west, inner sep=0pt] at (625pt,{828pt-734pt}) {NL};
\end{tikzpicture}
\end{document}
